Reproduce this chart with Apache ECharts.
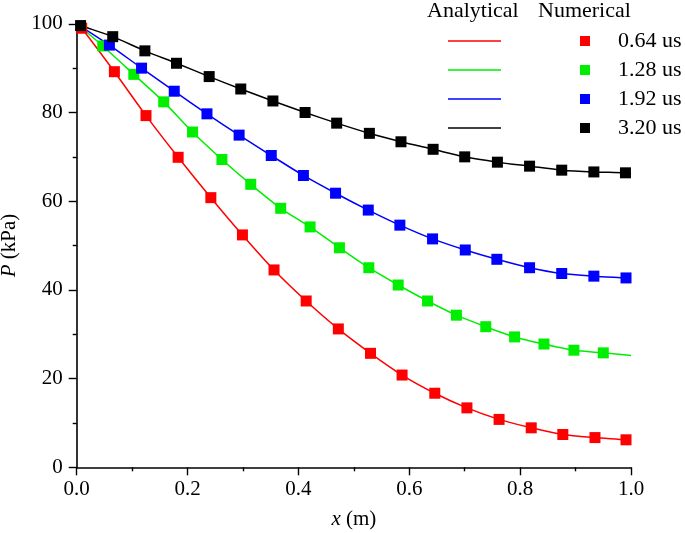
<!DOCTYPE html>
<html><head><meta charset="utf-8">
<script src="https://cdn.jsdelivr.net/npm/echarts@6/dist/echarts.min.js"></script>
<style>html,body{margin:0;padding:0;background:#fff}#c{width:685px;height:533px}</style>
</head><body><div id="c"></div>
<script>
const seriesNames = ['0.64 us', '1.28 us', '1.92 us', '3.20 us'];
const colors = ['#ff0000', '#00ee00', '#0000ff', '#000000'];

const xRed = [0.009,0.068,0.125,0.183,0.242,0.299,0.356,0.414,0.472,0.530,0.587,0.646,0.704,0.762,0.820,0.877,0.935,0.991];
const yRed = [99.0,89.2,79.3,69.9,60.8,52.4,44.5,37.5,31.2,25.7,20.8,16.7,13.4,10.8,8.9,7.4,6.7,6.2];
const xGreen = [0.047,0.103,0.157,0.209,0.262,0.314,0.368,0.421,0.474,0.527,0.580,0.633,0.685,0.738,0.790,0.843,0.897,0.950];
const yGreen = [95.0,88.6,82.4,75.6,69.4,63.8,58.4,54.2,49.5,45.0,41.1,37.5,34.3,31.7,29.4,27.8,26.4,25.8];
const xBlue = [0.059,0.117,0.176,0.235,0.293,0.351,0.409,0.467,0.526,0.583,0.642,0.701,0.758,0.817,0.875,0.933,0.991];
const yBlue = [95.2,90.0,84.8,79.7,74.9,70.3,65.8,61.8,58.0,54.6,51.5,49.0,46.9,45.0,43.7,43.1,42.7];
const xBlack = [0.007,0.065,0.123,0.180,0.239,0.296,0.354,0.412,0.469,0.528,0.585,0.643,0.700,0.759,0.817,0.875,0.933,0.990];
const yBlack = [99.6,97.1,93.9,91.1,88.1,85.3,82.6,80.0,77.6,75.3,73.4,71.7,70.0,68.8,67.9,67.0,66.6,66.4];

// analytical curve end points (x = 0 and x = 1)
const lineStartX = 0, lineEndX = 1.0;
const lineStartY = [100, 100, 100, 100];
const lineEndY = [6.0, 25.2, 42.6, 66.2];

const xTicks = [0, 0.2, 0.4, 0.6, 0.8, 1.0];
const yTicks = [0, 20, 40, 60, 80, 100];

const xs = [xRed, xGreen, xBlue, xBlack];
const ys = [yRed, yGreen, yBlue, yBlack];

const FONT = "'Liberation Serif','Times New Roman',serif";

const series = [];
seriesNames.forEach((n, i) => {
  const pts = xs[i].map((x, k) => [x, ys[i][k]]);
  series.push({
    name: 'A ' + n, type: 'line', symbol: 'none', smooth: 0.25,
    data: [[lineStartX, lineStartY[i]], ...pts, [lineEndX, lineEndY[i]]],
    lineStyle: { color: colors[i], width: 1.5 }, itemStyle: { color: colors[i] },
    z: 2, animation: false
  });
});
seriesNames.forEach((n, i) => {
  series.push({
    name: n, type: 'scatter', symbol: 'rect', symbolSize: 11,
    data: xs[i].map((x, k) => [x, ys[i][k]]),
    itemStyle: { color: colors[i], opacity: 1 }, z: 3, animation: false
  });
});

const chart = echarts.init(document.getElementById('c'), null, { renderer: 'canvas' });
chart.setOption({
  backgroundColor: '#fff',
  animation: false,
  textStyle: { fontFamily: FONT },
  grid: { left: 76.7, right: 54, top: 23.8, bottom: 65.7, containLabel: false, outerBoundsMode: 'none' },
  legend: [
    {
      data: seriesNames.map(n => 'A ' + n), orient: 'vertical', left: 443, top: 25,
      icon: 'rect', itemWidth: 53, itemHeight: 1.5, itemGap: 7, formatter: () => ' ',
      textStyle: { fontSize: 21, lineHeight: 22, fontFamily: FONT }, selectedMode: false
    },
    {
      data: seriesNames, orient: 'vertical', left: 575, top: 25, icon: 'rect',
      itemWidth: 10, itemHeight: 10, itemGap: 7,
      textStyle: { fontSize: 22, lineHeight: 22, fontFamily: FONT, color: '#000', padding: [0, 0, 0, 23] },
      selectedMode: false
    }
  ],
  graphic: [
    { type: 'text', left: 427, top: 0, style: { text: 'Analytical', font: '22px ' + FONT, fill: '#000' } },
    { type: 'text', left: 538, top: 0, style: { text: 'Numerical', font: '22px ' + FONT, fill: '#000' } }
  ],
  xAxis: {
    type: 'value', min: xTicks[0], max: xTicks[xTicks.length - 1], interval: 0.2,
    name: '{i|x} (m)', nameLocation: 'middle', nameGap: 42,
    nameTextStyle: { fontSize: 21, fontFamily: FONT, color: '#000', rich: { i: { fontStyle: 'italic', fontSize: 21, fontFamily: FONT } } },
    axisLine: { lineStyle: { color: '#000', width: 1.6 } },
    axisTick: { inside: false, length: 8, lineStyle: { color: '#000', width: 1.4 } },
    minorTick: { show: true, splitNumber: 2, length: 4, lineStyle: { color: '#000', width: 1.4 } },
    axisLabel: { fontSize: 21, fontFamily: FONT, color: '#000', margin: 12, formatter: v => v.toFixed(1) },
    splitLine: { show: false }
  },
  yAxis: {
    type: 'value', min: yTicks[0], max: yTicks[yTicks.length - 1], interval: 20,
    name: '{i|P} (kPa)', nameLocation: 'middle', nameGap: 40,
    nameTextStyle: { fontSize: 21, fontFamily: FONT, color: '#000', rich: { i: { fontStyle: 'italic', fontSize: 21, fontFamily: FONT } } },
    axisLine: { show: true, lineStyle: { color: '#000', width: 1.6 } },
    axisTick: { show: true, inside: false, length: 8, lineStyle: { color: '#000', width: 1.4 } },
    minorTick: { show: true, splitNumber: 2, length: 4, lineStyle: { color: '#000', width: 1.4 } },
    axisLabel: { fontSize: 21, fontFamily: FONT, color: '#000', margin: 14 },
    splitLine: { show: false }
  },
  series
});
</script></body></html>
